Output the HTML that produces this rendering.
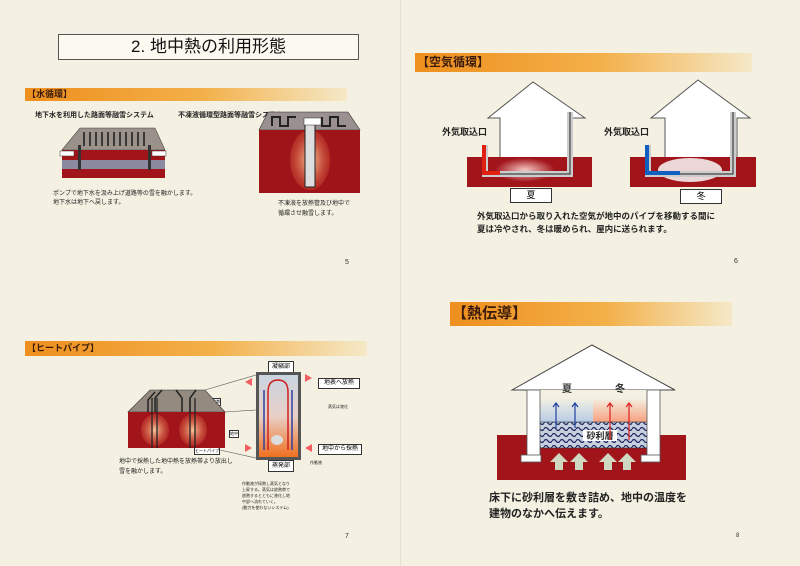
<!DOCTYPE html>
<html><head><meta charset="utf-8"><style>
html,body{margin:0;padding:0;}
body{width:800px;height:566px;background:#f4f1e2;position:relative;overflow:hidden;font-family:"Liberation Sans","Noto Sans CJK JP",sans-serif;}
.a{position:absolute;white-space:nowrap;}
.bar{position:absolute;background:linear-gradient(90deg,#ee8f1e 0%,#f3b049 55%,rgba(246,220,160,0.4) 100%);font-weight:bold;color:#3a1a0a;}
svg{position:absolute;left:0;top:0;}
</style></head><body>
<div class="a" style="left:400px;top:0;width:1px;height:566px;background:#e4e0cf"></div>
<div class="a" style="left:58px;top:34px;width:299px;height:24px;border:1px solid #555;background:#fbf9f0;font-size:17px;text-align:center;line-height:24px;color:#111">2. 地中熱の利用形態</div>

<div class="bar" style="left:25px;top:88px;width:320px;height:13px;font-size:9px;line-height:13px;padding-left:2px">【水循環】</div>
<div class="a" style="left:35px;top:110px;font-size:7px;font-weight:bold;color:#222">地下水を利用した路面等融雪システム</div>
<div class="a" style="left:178px;top:110px;font-size:7px;font-weight:bold;color:#222">不凍液循環型路面等融雪システム</div>
<div class="a" style="left:53px;top:190px;font-size:6px;line-height:9px;color:#222">ポンプで地下水を汲み上げ道路等の雪を融かします。<br>地下水は地下へ戻します。</div>
<div class="a" style="left:278px;top:199px;font-size:6px;line-height:10px;color:#222">不凍液を放熱管及び地中で<br>循環させ融雪します。</div>
<div class="a" style="left:345px;top:259px;font-size:7px;color:#333">5</div>

<div class="bar" style="left:415px;top:53px;width:335px;height:19px;font-size:12px;line-height:19px;padding-left:2px">【空気循環】</div>
<div class="a" style="left:442px;top:125px;font-size:9px;font-weight:bold;color:#222">外気取込口</div>
<div class="a" style="left:604px;top:125px;font-size:9px;font-weight:bold;color:#222">外気取込口</div>
<div class="a" style="left:510px;top:188px;width:40px;height:13px;border:1px solid #333;background:#fff;font-size:9px;text-align:center;line-height:13px">夏</div>
<div class="a" style="left:680px;top:189px;width:40px;height:13px;border:1px solid #333;background:#fff;font-size:9px;text-align:center;line-height:13px">冬</div>
<div class="a" style="left:477px;top:210px;font-size:8.5px;line-height:13px;font-weight:bold;color:#222">外気取込口から取り入れた空気が地中のパイプを移動する間に<br>夏は冷やされ、冬は暖められ、屋内に送られます。</div>
<div class="a" style="left:734px;top:258px;font-size:7px;color:#333">6</div>

<div class="bar" style="left:25px;top:341px;width:340px;height:15px;font-size:9px;line-height:15px;padding-left:2px">【ヒートパイプ】</div>
<div class="a" style="left:268px;top:361px;width:24px;height:10px;border:1px solid #333;background:#fff;font-size:6px;text-align:center;line-height:10px">凝縮部</div>
<div class="a" style="left:268px;top:460px;width:24px;height:10px;border:1px solid #333;background:#fff;font-size:6px;text-align:center;line-height:10px">蒸発部</div>
<div class="a" style="left:318px;top:378px;width:40px;height:9px;border:1px solid #333;background:#fff;font-size:6px;text-align:center;line-height:9px">地表へ放熱</div>
<div class="a" style="left:318px;top:444px;width:42px;height:9px;border:1px solid #333;background:#fff;font-size:6px;text-align:center;line-height:9px">地中から採熱</div>
<div class="a" style="left:328px;top:404px;font-size:4px;color:#222">蒸気は液化</div>
<div class="a" style="left:310px;top:460px;font-size:4px;color:#222">作動液</div>
<div class="a" style="left:207px;top:398px;font-size:4px;background:#fff;border:1px solid #333">放熱帯</div>
<div class="a" style="left:229px;top:430px;font-size:4px;background:#fff;border:1px solid #333">地中</div>
<div class="a" style="left:194px;top:447px;font-size:4px;background:#fff;border:1px solid #333">ヒートパイプ</div>
<div class="a" style="left:119px;top:457px;font-size:6px;line-height:10px;color:#222">地中で採熱した地中熱を放熱帯より放出し<br>雪を融かします。</div>
<div class="a" style="left:242px;top:481px;font-size:4px;line-height:6px;color:#222">作動液が採熱し蒸気となり<br>上昇する。蒸気は放熱帯で<br>放熱するとともに液化し地<br>中部へ流れていく。<br>(動力を使わないシステム)</div>
<div class="a" style="left:345px;top:533px;font-size:7px;color:#333">7</div>

<div class="bar" style="left:450px;top:302px;width:280px;height:24px;font-size:15px;line-height:24px;padding-left:2px">【熱伝導】</div>
<div class="a" style="left:489px;top:490px;font-size:11px;line-height:16px;font-weight:bold;color:#222">床下に砂利層を敷き詰め、地中の温度を<br>建物のなかへ伝えます。</div>
<div class="a" style="left:736px;top:533px;font-size:6px;color:#333">8</div>

<svg width="800" height="566">
<defs>
<radialGradient id="rg"><stop offset="0" stop-color="#f7c9c4"/><stop offset="1" stop-color="#f7c9c4" stop-opacity="0"/></radialGradient>
<radialGradient id="og"><stop offset="0" stop-color="#f7c79a"/><stop offset="1" stop-color="#e06040" stop-opacity="0.3"/></radialGradient>
<linearGradient id="vg" x1="0" y1="0" x2="0" y2="1"><stop offset="0" stop-color="#c8d4e0"/><stop offset="0.5" stop-color="#e8d0c8"/><stop offset="1" stop-color="#f07020"/></linearGradient>
<linearGradient id="sb" x1="0" y1="0" x2="0" y2="1"><stop offset="0" stop-color="#f4f1e2"/><stop offset="1" stop-color="#b8cbe6"/></linearGradient>
<linearGradient id="sr" x1="0" y1="0" x2="0" y2="1"><stop offset="0" stop-color="#f4f1e2"/><stop offset="1" stop-color="#f6a080"/></linearGradient>
<pattern id="gr" width="8" height="6" patternUnits="userSpaceOnUse"><rect width="8" height="6" fill="#c8d0e0"/><path d="M0 3 q2 -3 4 0 t4 0" stroke="#1e2a60" stroke-width="1.3" fill="none"/></pattern>
</defs>
<!-- slide 5 left -->
<polygon points="62,150 165,150 155,128 80,128" fill="#9a928a" stroke="#444" stroke-width="0.6"/>
<g stroke="#222" stroke-width="1.6" fill="none">
<path d="M84,146 V132 M90,146 V132 M96,146 V132 M102,146 V132 M108,146 V132 M114,146 V132 M120,146 V132 M126,146 V132 M132,146 V132 M138,146 V132 M144,146 V132"/></g>
<rect x="62" y="150" width="103" height="28" fill="#a0141a"/>
<rect x="62" y="160" width="103" height="9" fill="#8a8aa0"/>
<rect x="78" y="145" width="3" height="25" fill="#333"/><rect x="148" y="145" width="3" height="25" fill="#333"/>
<rect x="60" y="151" width="14" height="5" fill="#fff" stroke="#333" stroke-width="0.5"/>
<rect x="152" y="151" width="14" height="5" fill="#fff" stroke="#333" stroke-width="0.5"/>
<!-- slide 5 right -->
<polygon points="259,130 360,130 348,112 268,112" fill="#9a9090" stroke="#333" stroke-width="0.6"/>
<path d="M272,126 V117 H280 V126 H288 V117 H296 M322,117 V126 H330 V117 H338 V126 H346" stroke="#222" stroke-width="2" fill="none"/>
<rect x="259" y="130" width="101" height="63" fill="#9e1418"/>
<ellipse cx="310" cy="160" rx="20" ry="30" fill="url(#og)"/>
<rect x="305" y="120" width="10" height="67" fill="#ddd" stroke="#222"/>
<rect x="304" y="118" width="17" height="7" fill="#fff" stroke="#333" stroke-width="0.5"/>
<!-- slide 6 houses -->
<g fill="#fff" stroke="#555" stroke-width="1">
<polygon points="488,118 533,82 585,118 572,118 572,160 500,160 500,118"/>
<polygon points="651,118 698,80 750,118 737,118 737,160 665,160 665,118"/>
</g>
<rect x="467" y="157" width="125" height="30" fill="#a0141a"/>
<rect x="630" y="157" width="126" height="30" fill="#a0141a"/>
<ellipse cx="525" cy="170" rx="30" ry="12" fill="url(#rg)"/>
<ellipse cx="690" cy="170" rx="32" ry="12" fill="#f3ecec" opacity="0.9"/>
<path d="M485,145 V174 H570 V112" stroke="#ccc" stroke-width="6" fill="none"/>
<path d="M485,145 V174 H570 V112" stroke="#222" stroke-width="1" fill="none"/>
<path d="M484,145 V173 H500" stroke="#e02010" stroke-width="4" fill="none"/>
<path d="M648,145 V174 H733 V112" stroke="#ccc" stroke-width="6" fill="none"/>
<path d="M648,145 V174 H733 V112" stroke="#222" stroke-width="1" fill="none"/>
<path d="M647,145 V173 H680" stroke="#1060c0" stroke-width="4" fill="none"/>
<!-- slide 7 left block -->
<polygon points="128,412 225,412 205,390 150,390" fill="#958a80" stroke="#333" stroke-width="0.6"/>
<path d="M148,412 V400 L155,392 M155,412 V398 L162,390 M182,412 V398 L176,390 M190,412 V398 L196,390" stroke="#222" stroke-width="1.5" fill="none"/>
<rect x="128" y="412" width="97" height="36" fill="#a0141a"/>
<ellipse cx="155" cy="430" rx="14" ry="16" fill="url(#og)"/><ellipse cx="193" cy="430" rx="14" ry="16" fill="url(#og)"/>
<path d="M152,398 V448 M157,398 V448 M190,398 V448 M195,398 V448" stroke="#222" stroke-width="1.3"/>
<path d="M205,390 L256,375 M225,412 L256,410 M220,450 L256,458" stroke="#555" stroke-width="0.6"/>
<!-- vessel -->
<rect x="256" y="372" width="45" height="88" fill="#555"/>
<rect x="259" y="375" width="39" height="82" fill="url(#vg)"/>
<path d="M268,450 V392 Q268,380 278,380 Q288,380 288,392 V450" stroke="#d02020" stroke-width="1.5" fill="none"/>
<path d="M264,390 V450 M292,390 V450" stroke="#3040a0" stroke-width="1.5"/>
<ellipse cx="277" cy="440" rx="6" ry="5" fill="#ddd"/>
<g fill="#f06060"><polygon points="245,382 252,378 252,386"/><polygon points="312,378 305,374 305,382"/><polygon points="252,448 245,444 245,452"/><polygon points="305,448 312,444 312,452"/></g>
<!-- slide 8 house -->
<polygon points="512,390 592,345 675,390" fill="#fff" stroke="#444"/>
<rect x="497" y="435" width="189" height="45" fill="#a0141a"/>
<rect x="540" y="390" width="107" height="32" fill="#f4f1e2"/>
<rect x="540" y="398" width="53" height="24" fill="url(#sb)"/>
<rect x="593" y="398" width="54" height="24" fill="url(#sr)"/>
<rect x="537" y="422" width="111" height="26" fill="url(#gr)" stroke="#333" stroke-width="0.6"/>
<rect x="583" y="430" width="34" height="11" fill="#fff"/>
<text x="600" y="439" font-size="9" font-weight="bold" text-anchor="middle" fill="#222" font-family="Liberation Sans,Noto Sans CJK JP,sans-serif">砂利層</text>
<text x="562" y="392" font-size="10" font-weight="bold" fill="#333" font-family="Liberation Sans,Noto Sans CJK JP,sans-serif">夏</text>
<text x="615" y="392" font-size="10" font-weight="bold" fill="#333" font-family="Liberation Sans,Noto Sans CJK JP,sans-serif">冬</text>
<g fill="#fff" stroke="#555" stroke-width="0.8">
<rect x="527" y="390" width="13" height="70"/><rect x="647" y="390" width="13" height="70"/>
<rect x="521" y="455" width="20" height="7"/><rect x="641" y="455" width="19" height="7"/>
</g>
<g fill="#cfd8c0"><polygon points="551,470 555,470 555,462 550,462 559,453 568,462 563,462 563,470"/><polygon points="571,470 575,470 575,462 570,462 579,453 588,462 583,462 583,470"/><polygon points="600,470 604,470 604,462 599,462 608,453 617,462 612,462 612,470"/><polygon points="619,470 623,470 623,462 618,462 627,453 636,462 631,462 631,470"/></g>
<g stroke="#2040a0" stroke-width="1.2" fill="none"><path d="M556,428 V404 M553,407 L556,403 L559,407 M575,428 V404 M572,407 L575,403 L578,407"/></g>
<g stroke="#e02020" stroke-width="1.2" fill="none"><path d="M610,440 V404 M607,407 L610,403 L613,407 M629,440 V404 M626,407 L629,403 L632,407"/></g>
</svg>
</body></html>
